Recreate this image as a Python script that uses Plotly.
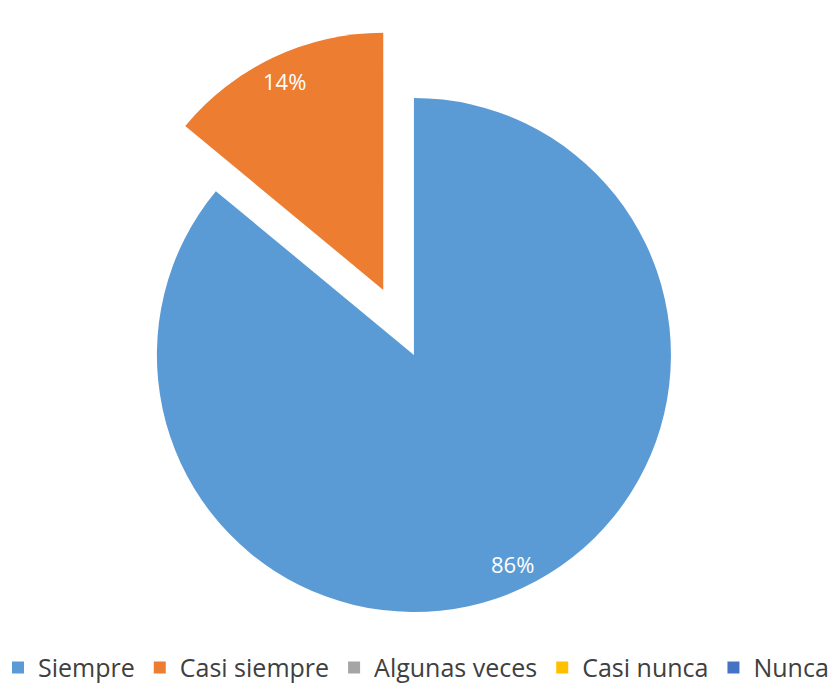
import math
import plotly.graph_objects as go

# ---------------------------------------------------------------------
# Data
# ---------------------------------------------------------------------
labels = ["Siempre", "Casi siempre", "Algunas veces", "Casi nunca", "Nunca"]
values = [86, 14, 0, 0, 0]
colors = ["#5B9BD5", "#ED7D31", "#A5A5A5", "#FFC000", "#4472C4"]
pulls = [0, 0.28, 0, 0, 0]

# ---------------------------------------------------------------------
# Layout helpers
# ---------------------------------------------------------------------
W, H = 832, 684
dom_x = [0.102, 0.893]
dom_y = [0.0, 0.962]

# same geometry plotly uses for pies: radius shrinks to leave room for pull
box_w = W * (dom_x[1] - dom_x[0])
box_h = H * (dom_y[1] - dom_y[0])
r = min(box_w, box_h) / (2 + 2 * max(pulls))
cx = W * (dom_x[0] + dom_x[1]) / 2
cy = H * (1 - (dom_y[0] + dom_y[1]) / 2)

# percent labels near the outer edge of each slice (clockwise from 12 o'clock)
total = sum(values)
annotations = []
cum = 0
for lab, v, p in zip(labels, values, pulls):
    if v > 0:
        theta = 2 * math.pi * (cum + v / 2) / total
        d = (p + 0.9) * r
        px = cx + d * math.sin(theta)
        py = cy - d * math.cos(theta)
        annotations.append(dict(
            x=px / W, y=1 - py / H, xref="paper", yref="paper",
            xanchor="center", yanchor="middle",
            text=f"{round(100 * v / total)}%", showarrow=False,
            font=dict(family="Open Sans", size=22, color="white"),
        ))
    cum += v

# ---------------------------------------------------------------------
# Figure
# ---------------------------------------------------------------------
fig = go.Figure(go.Pie(
    labels=labels,
    values=values,
    marker=dict(colors=colors, line=dict(width=0)),
    pull=pulls,
    sort=False,
    direction="clockwise",
    rotation=0,
    textinfo="none",
    hoverinfo="label+percent",
    domain=dict(x=dom_x, y=dom_y),
))

fig.update_layout(
    width=W,
    height=H,
    margin=dict(l=0, r=0, t=0, b=0, autoexpand=False),
    paper_bgcolor="white",
    plot_bgcolor="white",
    showlegend=True,
    annotations=annotations,
    legend=dict(
        orientation="h",
        x=0.5, xanchor="center",
        y=-0.01, yanchor="bottom",
        font=dict(family="Open Sans", size=25, color="#404040"),
        itemwidth=30,
    ),
)

fig.write_html(
    "out.html",
    config={"displayModeBar": False},
    post_script="document.body.style.margin='0';",
)
